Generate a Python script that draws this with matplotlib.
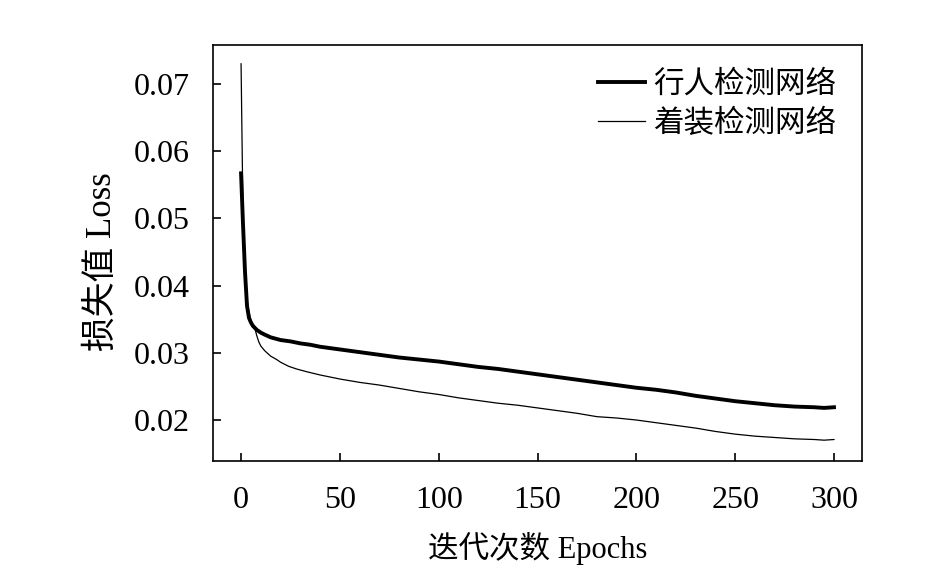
import matplotlib
matplotlib.use("Agg")
import matplotlib.pyplot as plt

plt.rcParams['font.family'] = ['Liberation Serif', 'Noto Sans CJK SC', 'DejaVu Sans']

# Pedestrian detection network (thick line)
epochs_ped = [0, 1, 2, 3, 4, 5, 6, 8, 10, 12, 15, 20, 25, 30, 35, 40, 45, 50,
              60, 70, 80, 90, 100, 110, 120, 130, 140, 150, 160, 170, 180, 190,
              200, 210, 220, 230, 240, 250, 260, 270, 280, 290, 295, 300]
loss_ped = [0.0567, 0.0490, 0.0420, 0.0370, 0.0352, 0.0345, 0.0340, 0.0334,
            0.0330, 0.0327, 0.0323, 0.0319, 0.0317, 0.0314, 0.0312, 0.0309,
            0.0307, 0.0305, 0.0301, 0.0297, 0.0293, 0.0290, 0.0287, 0.0283,
            0.0279, 0.0276, 0.0272, 0.0268, 0.0264, 0.0260, 0.0256, 0.0252,
            0.0248, 0.0245, 0.0241, 0.0236, 0.0232, 0.0228, 0.0225, 0.0222,
            0.0220, 0.0219, 0.0218, 0.0219]

# Clothing detection network (thin line)
epochs_cloth = [0, 1, 2, 3, 4, 5, 6, 7, 8, 9, 10, 12, 15, 18, 20, 24, 28, 33,
                40, 45, 50, 60, 70, 80, 90, 100, 110, 120, 130, 140, 150, 160,
                170, 180, 190, 200, 210, 220, 230, 240, 250, 260, 270, 280,
                290, 295, 300]
loss_cloth = [0.0730, 0.0500, 0.0420, 0.0380, 0.0360, 0.0348, 0.0342, 0.0336,
              0.0325, 0.0316, 0.0310, 0.0303, 0.0295, 0.0290, 0.0286, 0.0280,
              0.0276, 0.0272, 0.0267, 0.0264, 0.0261, 0.0256, 0.0252, 0.0247,
              0.0242, 0.0238, 0.0233, 0.0229, 0.0225, 0.0222, 0.0218, 0.0214,
              0.0210, 0.0205, 0.0203, 0.0200, 0.0196, 0.0192, 0.0188, 0.0183,
              0.0179, 0.0176, 0.0174, 0.0172, 0.0171, 0.0170, 0.0171]

labels = ['行人检测网络', '着装检测网络']
xticks = [0, 50, 100, 150, 200, 250, 300]
yticks = [0.02, 0.03, 0.04, 0.05, 0.06, 0.07]
ytick_labels = ['0.02', '0.03', '0.04', '0.05', '0.06', '0.07']

fig = plt.figure(figsize=(9.45, 5.70), dpi=100)
ax = fig.add_axes([0.2254, 0.1912, 0.6868, 0.7299])

ax.plot(epochs_ped, loss_ped, color='black', linewidth=2.8, label=labels[0])
ax.plot(epochs_cloth, loss_cloth, color='black', linewidth=0.9, label=labels[1])

ax.set_xlim(-14.2, 314.2)
ax.set_ylim(0.0139, 0.0758)
ax.set_xticks(xticks)
ax.set_xticklabels([str(t) for t in xticks])
ax.set_yticks(yticks)
ax.set_yticklabels(ytick_labels)

for s in ax.spines.values():
    s.set_linewidth(1.2)
ax.tick_params(direction='in', length=6, width=1.2, labelsize=23)
ax.tick_params(axis='x', pad=18)
ax.tick_params(axis='y', pad=17)

ax.set_xlabel('迭代次数 Epochs', fontsize=22, labelpad=12)
ax.set_ylabel('损失值 Loss', fontsize=25)
ax.yaxis.set_label_coords(-0.145, 0.48)

leg = ax.legend(loc='upper right', frameon=False, fontsize=22,
                handlelength=1.55, handletextpad=0.25, labelspacing=0.3,
                borderaxespad=0.45)

fig.savefig('out.png', dpi=100)
